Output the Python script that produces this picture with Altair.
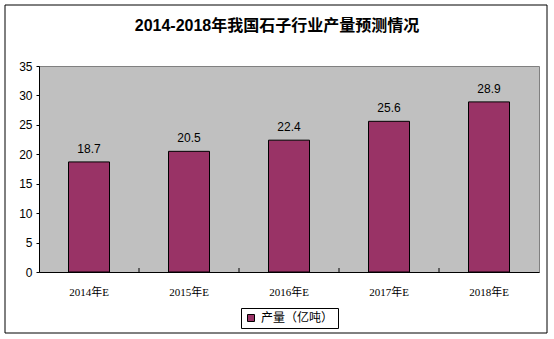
import altair as alt
import pandas as pd

categories = ["2014年E", "2015年E", "2016年E", "2017年E", "2018年E"]
values = [18.7, 20.5, 22.4, 25.6, 28.9]
series_name = "产量（亿吨）"
title_text = "2014-2018年我国石子行业产量预测情况"
y_ticks = [0, 5, 10, 15, 20, 25, 30, 35]

df = pd.DataFrame({"cat": categories, "val": values, "series": [series_name] * len(categories)})
tick_df = pd.DataFrame({"cat": categories[:-1]})
frame_df = pd.DataFrame({"k": [0]})

x_enc = alt.X("cat:N", sort=categories,
              scale=alt.Scale(paddingInner=0, paddingOuter=0),
              axis=alt.Axis(title=None, ticks=False, labelAngle=0, domainColor="black",
                            labelFont="Liberation Serif, Noto Sans CJK SC", labelFontSize=11,
                            labelColor="black", labelPadding=14))
y_enc = alt.Y("val:Q", scale=alt.Scale(domain=[0, 35], nice=False),
              axis=alt.Axis(title=None, values=y_ticks, grid=False, labelOverlap=False,
                            tickSize=3, tickColor="black", domainColor="black",
                            labelFont="Liberation Sans", labelFontSize=12, labelColor="black",
                            labelPadding=4))

bars = alt.Chart(df).mark_bar(size=41, stroke="black", strokeWidth=1).encode(
    x=x_enc,
    y=y_enc,
    color=alt.Color("series:N", scale=alt.Scale(range=["#993366"]),
                    legend=alt.Legend(title=None, orient="none", legendX=202, legendY=242,
                                      strokeColor="black", padding=4, symbolType="square",
                                      symbolSize=49, symbolStrokeColor="black",
                                      symbolStrokeWidth=1,
                                      labelFont="Noto Sans CJK SC", labelFontSize=12,
                                      labelColor="black")),
)

labels = alt.Chart(df).mark_text(dy=-13, baseline="middle", font="Liberation Sans",
                                 fontSize=12, color="black").encode(
    x=x_enc,
    y=y_enc,
    text=alt.Text("val:Q", format=".1f"),
)

ticks = alt.Chart(tick_df).mark_rule(color="black", strokeWidth=1).encode(
    x=alt.X("cat:N", sort=categories, bandPosition=1),
    y=alt.value(206),
    y2=alt.value(202),
)

frame = alt.Chart(frame_df).mark_rect(fillOpacity=0, stroke="black", strokeWidth=1).encode(
    x=alt.value(-34), x2=alt.value(508), y=alt.value(-61), y2=alt.value(267),
)

chart = alt.layer(bars, ticks, labels, frame).properties(
    width=500, height=206,
    padding={"left": 39, "top": 66, "right": 15, "bottom": 67},
    autosize=alt.AutoSizeParams(type="none"),
    background="white",
    title=alt.TitleParams(title_text, anchor="middle", dx=-12, offset=-29,
                          font="Liberation Sans, Noto Sans CJK SC", fontSize=16,
                          fontWeight="bold", color="black"),
).configure_view(fill="#C0C0C0", stroke="#808080")

chart.save("out.html", embed_options={"renderer": "svg", "actions": False})
